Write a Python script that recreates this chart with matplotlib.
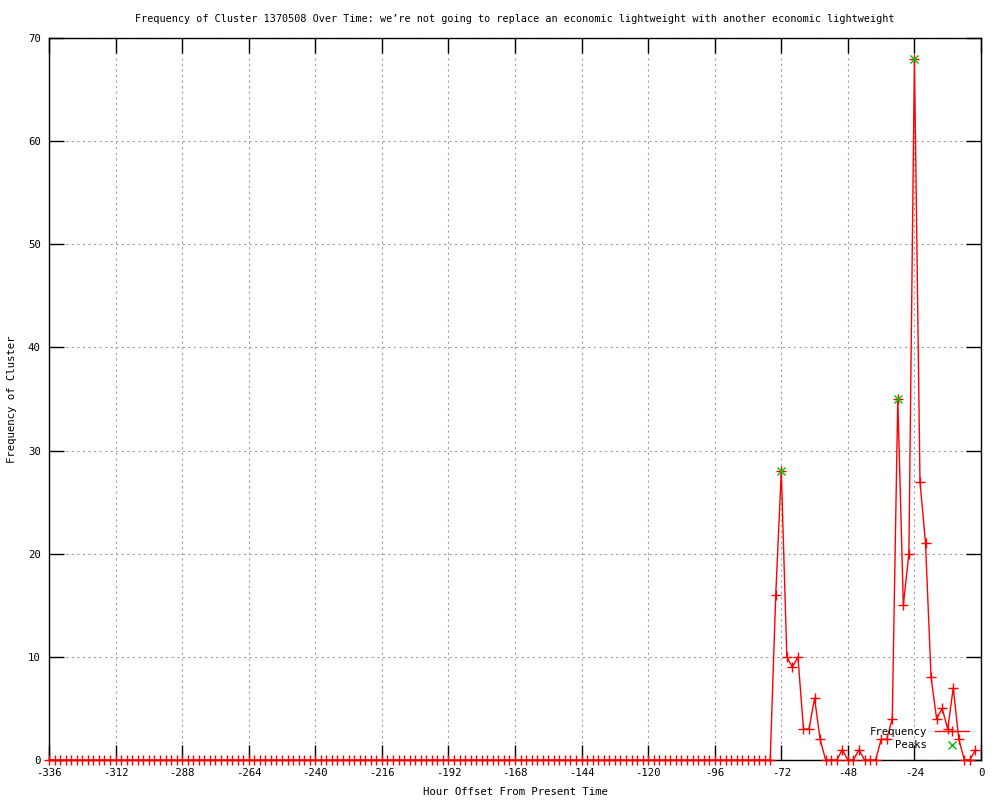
import matplotlib
matplotlib.use("Agg")
import matplotlib.pyplot as plt
import numpy as np

plt.rcParams['font.family'] = ['DejaVu Sans Mono']
plt.rcParams['axes.unicode_minus'] = False

title = "Frequency of Cluster 1370508 Over Time: we\u2019re not going to replace an economic lightweight with another economic lightweight"

hours = list(range(-336, 0, 2))
recent_values = [16, 28, 10, 9, 10, 3, 3, 6, 2, 0, 0, 0, 1, 0, 0, 1, 0, 0, 0,
                 2, 2, 4, 35, 15, 20, 68, 27, 21, 8, 4, 5, 3, 7, 2, 0, 0, 1]
values = [0] * (len(hours) - len(recent_values)) + recent_values

peak_hours = [-72, -30, -24]
peak_values = [28, 35, 68]

xticks = list(range(-336, 1, 24))
yticks = list(range(0, 71, 10))

fig = plt.figure(figsize=(10, 8), dpi=100)
ax = fig.add_axes([0.049, 0.05, 0.932, 0.9025])

ax.plot(hours, values, color='red', linewidth=1.0, marker='+',
        markersize=7, markeredgewidth=1.0, label='Frequency', clip_on=False,
        zorder=3)
ax.plot(peak_hours, peak_values, linestyle='none', color='#00c000', marker='x',
        markersize=6, markeredgewidth=1.0, label='Peaks', clip_on=False,
        zorder=4)

ax.set_xlim(-336, 0)
ax.set_ylim(0, 70)
ax.set_xticks(xticks)
ax.set_yticks(yticks)
ax.grid(True, color='#a0a0a0', linestyle=(0, (2, 3)), linewidth=0.8)
ax.tick_params(direction='in', length=11, width=1, top=True, right=True,
               labelsize=7.7, pad=6, colors='black')
for s in ax.spines.values():
    s.set_linewidth(1.0)

ax.set_title(title, fontsize=7.25, pad=11.5)
ax.set_xlabel("Hour Offset From Present Time", fontsize=7.7, labelpad=6)
ax.set_ylabel("Frequency of Cluster", fontsize=7.7, labelpad=8)

leg = ax.legend(loc='lower right', bbox_to_anchor=(0.9975, 0.0), frameon=False,
                markerfirst=False, fontsize=7.7, handlelength=3.2,
                handletextpad=0.7, labelspacing=0.3, borderaxespad=0.5)

fig.savefig("out.png", dpi=100)
